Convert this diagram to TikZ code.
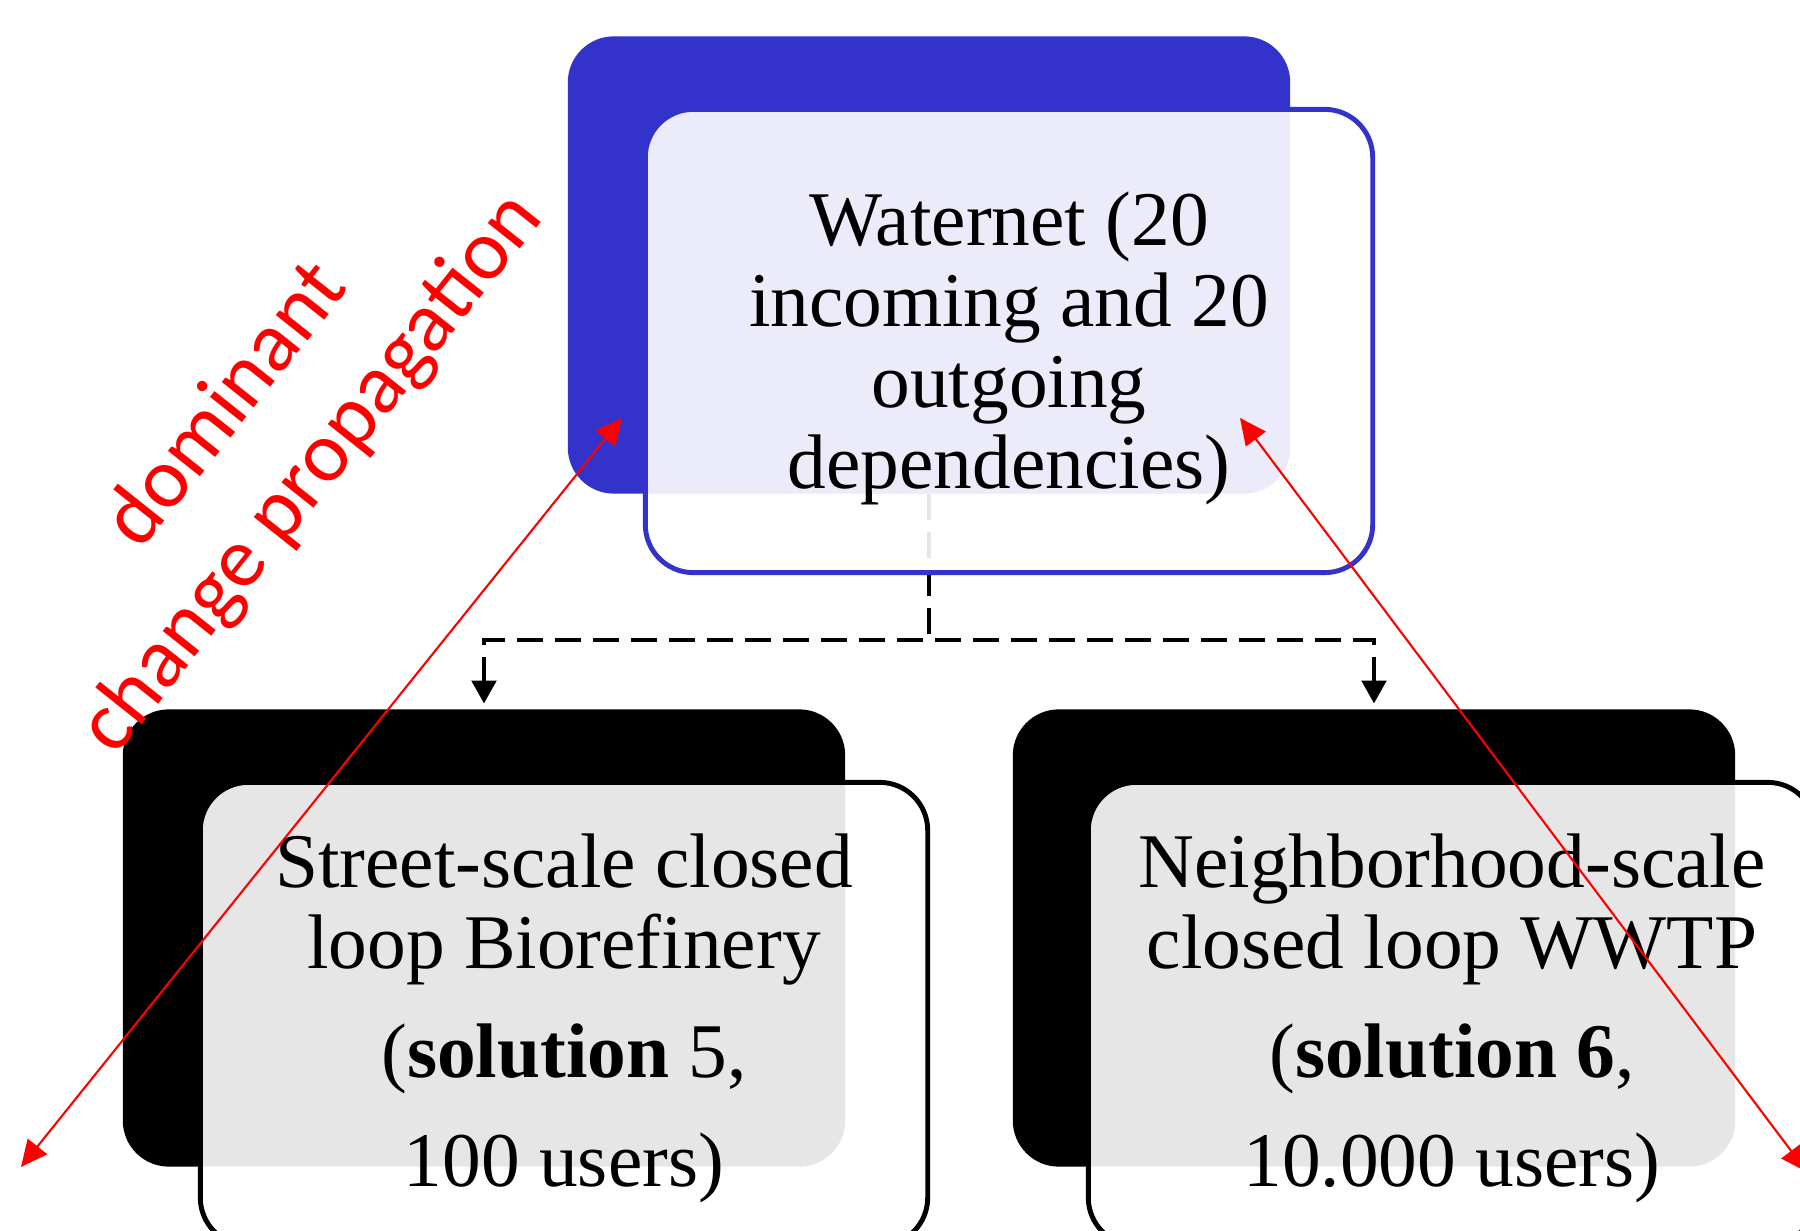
\documentclass[tikz,border=0pt]{standalone}
\usepackage{fontspec}
\setmainfont{Liberation Serif}
\newfontfamily\calib{Carlito}
\usetikzlibrary{arrows.meta}
\definecolor{wblue}{RGB}{51,51,204}
\begin{document}
\begin{tikzpicture}[x=0.01cm,y=-0.01cm,
  backbox/.style={rectangle, rounded corners=0.46cm, minimum width=7.22cm, minimum height=4.57cm, inner sep=0pt},
  frontbox/.style={rectangle, rounded corners=0.48cm, minimum width=7.27cm, minimum height=4.63cm, inner sep=0pt,
     fill=white, fill opacity=0.9, text opacity=1, line width=1.4pt, align=center, font=\fontsize{22}{23}\selectfont},
  conn/.style={line width=1pt, dash pattern=on 7.4pt off 3.4pt, -{Triangle[length=6.5pt,width=7pt]}, shorten >=1.5pt},
  redarrow/.style={red, line width=0.6pt, {Triangle[length=7.5pt,width=7pt]}-{Triangle[length=7.5pt,width=7pt]}},
  redlabel/.style={text=red, rotate=51.5, align=center, font=\calib\fontsize{24.3}{31}\selectfont}
]
\useasboundingbox (0,0) rectangle (1800,1231);

% back boxes
\node[backbox, fill=wblue] (tb) at (929,265) {};
\node[backbox, fill=black] (lb) at (484,938) {};
\node[backbox, fill=black] (rb) at (1374,938) {};

% dashed connectors
\coordinate (j) at (929,640);
\draw[conn] (tb.south) -- (j) -| (lb.north);
\draw[conn] (tb.south) -- (j) -| (rb.north);

% front boxes
\node[frontbox, draw=wblue] (tf) at (1009,341) {\rule{0pt}{19.5pt}Waternet (20\\incoming and 20\\outgoing\\dependencies)};
\node[frontbox, draw=black] (lf) at (564,1014) {\rule{0pt}{18pt}Street-scale closed\\loop Biorefinery\\[8pt](\textbf{solution} 5,\\[8pt]100 users)};
\node[frontbox, draw=black] (rf) at (1452,1014) {\rule{0pt}{18pt}Neighborhood-scale\\closed loop WWTP\\[8pt](\textbf{solution 6},\\[8pt]10.000 users)};

% red label
\node[redlabel] (lbl) at (270,440) {dominant\\change propagation};

% red arrows
\coordinate (a1) at (622,418);
\coordinate (a2) at (21,1167);
\coordinate (b1) at (1240,418);
\coordinate (b2) at (1807,1172);
\draw[redarrow] (a1) -- (a2);
\draw[redarrow] (b1) -- (b2);
\end{tikzpicture}
\end{document}
